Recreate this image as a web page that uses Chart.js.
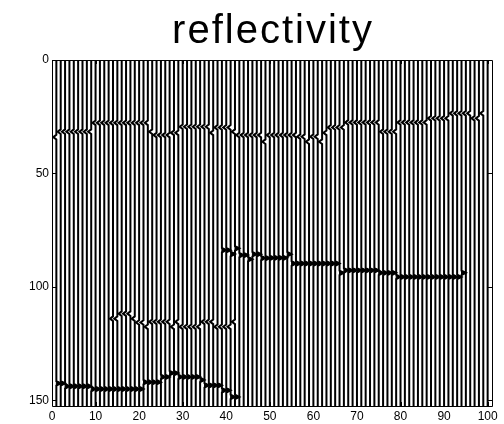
<!DOCTYPE html>
<html><head><meta charset="utf-8">
<script src="https://cdn.jsdelivr.net/npm/chart.js@4/dist/chart.umd.min.js"></script>
<style>html,body{margin:0;padding:0;background:#fff}#wrap{width:504px;height:424px}</style>
</head><body><div id="wrap"><canvas id="c" width="504" height="424"></canvas></div>
<script>
// ---- data ----
const chartTitle = 'reflectivity';
const traces = [1,2,3,4,5,6,7,8,9,10,11,12,13,14,15,16,17,18,19,20,21,22,23,24,25,26,27,28,29,30,31,32,33,34,35,36,37,38,39,40,41,42,43,44,45,46,47,48,49,50,51,52,53,54,55,56,57,58,59,60,61,62,63,64,65,66,67,68,69,70,71,72,73,74,75,76,77,78,79,80,81,82,83,84,85,86,87,88,89,90,91,92,93,94,95,96,97,98,99,100];
const xTickValues = [0,10,20,30,40,50,60,70,80,90,100];
const yTickValues = [0,50,100,150];
const xRange = [0, 101];
const timeRange = [0, 152.5];

// reflector A (negative polarity), first trace 1
const reflA_first = 1;
const reflA_coef = -0.7;
const reflA_time = [34,
 31.6,31.6,31.6,31.6,31.6,31.6,31.6,31.6,
 27.7,27.7,27.7,27.7,27.7,27.7,27.7,27.7,27.7,27.7,27.7,27.7,27.7,
 31.6, 33.1,33.1,33.1,33.1, 32.1,32.1,
 29.4,29.4,29.4,29.4,29.4,29.4,29.4, 32.1,
 29.7,29.7,29.7,29.7, 31.6,
 33.1,33.1,33.1,33.1,33.1,33.1, 36,
 33.1,33.1,33.1,33.1,33.1,33.1,33.1, 33.8,33.8, 36, 33.8,33.8, 36, 32.1,
 29.7,29.7,29.7,29.7,
 27.5,27.5,27.5,27.5,27.5,27.5,27.5,27.5,
 31.6,31.6,31.6,31.6,
 27.5,27.5,27.5,27.5,27.5,27.5,27.5,
 25.7,25.7,25.7,25.7,25.7,
 23.5,23.5,23.5,23.5,23.5, 25.7,25.7, 23.5];

// reflector B (positive polarity), first trace 39
const reflB_first = 39;
const reflB_coef = 1.0;
const reflB_time = [83.8,83.8, 85.5, 83, 86,86, 87.8, 85.6,85.6, 87.3,87.3,
 87.2,87.2,87.2,87.2, 85.6,
 89.7,89.7,89.7,89.7,89.7,89.7,89.7,89.7,89.7,89.7,89.7, 93.8,
 92.7,92.7,92.7,92.7,92.7,92.7,92.7,92.7, 93.8,93.8,93.8,93.8,
 95.6,95.6,95.6,95.6,95.6,95.6,95.6,95.6,95.6,95.6,95.6,95.6,95.6,95.6,95.6, 93.8];

// reflector C (negative polarity), first trace 14
const reflC_first = 14;
const reflC_coef = -0.7;
const reflC_time = [114,114, 111.8,111.8,111.8, 114, 115.7,115.7, 117.6,
 115.4,115.4,115.4,115.4,115.4, 117.6, 115.4,
 117.6,117.6,117.6,117.6,117.6, 115.4,115.4,115.4,
 117.6,117.6,117.6,117.6, 115.4];

// reflector D (positive polarity), first trace 1
const reflD_first = 1;
const reflD_coef = 1.0;
const reflD_time = [142.5,142.5, 143.8,143.8,143.8,143.8,143.8,143.8,
 145,145,145,145,145,145,145,145,145,145,145,145,
 142,142,142,142, 139.7,139.7, 138,138,
 139.7,139.7,139.7,139.7,139.7, 141, 143.4,143.4,143.4,143.4,
 145.6,145.6, 148.5,148.5];

const reflectors = [
  {first: reflA_first, coef: reflA_coef, time: reflA_time},
  {first: reflB_first, coef: reflB_coef, time: reflB_time},
  {first: reflC_first, coef: reflC_coef, time: reflC_time},
  {first: reflD_first, coef: reflD_coef, time: reflD_time}
];

// ---- build wiggle datasets ----
const halfWidth = 1; // samples
const lineDatasets = [];
const fillDatasets = [];
traces.forEach(k => {
  const ev = [];
  reflectors.forEach(r => {
    const i = k - r.first;
    if (i >= 0 && i < r.time.length) ev.push({t: r.time[i], a: r.coef});
  });
  ev.sort((p, q) => p.t - q.t);
  const pts = [{x: k, y: timeRange[0]}];
  ev.forEach(e => {
    pts.push({x: k, y: e.t - halfWidth}, {x: k + e.a, y: e.t}, {x: k, y: e.t + halfWidth});
    if (e.a > 0) {
      fillDatasets.push({
        data: [{x: k, y: e.t - halfWidth}, {x: k + e.a, y: e.t}, {x: k, y: e.t + halfWidth}, {x: k, y: e.t - halfWidth}],
        showLine: true, borderColor: '#000', borderWidth: 1, backgroundColor: '#000',
        fill: 'shape', pointRadius: 0, tension: 0
      });
    }
  });
  pts.push({x: k, y: timeRange[1]});
  lineDatasets.push({data: pts, showLine: true, borderColor: '#000', borderWidth: 2,
    pointRadius: 0, fill: false, tension: 0});
});

const framePlugin = {
  id: 'frame',
  afterDatasetsDraw(chart) {
    const {ctx, chartArea: a, scales} = chart;
    ctx.save();
    ctx.strokeStyle = '#000';
    ctx.lineWidth = 1;
    ctx.beginPath();
    ctx.rect(Math.round(a.left) + 0.5, Math.round(a.top) + 0.5, Math.round(a.right - a.left), Math.round(a.bottom - a.top));
    ctx.stroke();
    const tl = 4;
    ctx.beginPath();
    xTickValues.forEach(v => {
      const px = Math.round(scales.x.getPixelForValue(v)) + 0.5;
      ctx.moveTo(px, a.bottom); ctx.lineTo(px, a.bottom - tl);
      ctx.moveTo(px, a.top); ctx.lineTo(px, a.top + tl);
    });
    yTickValues.forEach(v => {
      const py = Math.round(scales.y.getPixelForValue(v)) + 0.5;
      ctx.moveTo(a.left, py); ctx.lineTo(a.left + tl, py);
      ctx.moveTo(a.right, py); ctx.lineTo(a.right - tl, py);
    });
    ctx.stroke();
    // title centred over the plot box
    ctx.fillStyle = '#000';
    ctx.font = '40px "Liberation Sans", Arial, sans-serif';
    ctx.textAlign = 'center';
    ctx.textBaseline = 'alphabetic';
    if ('letterSpacing' in ctx) ctx.letterSpacing = '2px';
    ctx.fillText(chartTitle, (a.left + a.right) / 2 + 1, 43);
    ctx.restore();
  }
};

new Chart(document.getElementById('c'), {
  type: 'scatter',
  data: {datasets: fillDatasets.concat(lineDatasets)},
  options: {
    responsive: false, animation: false, devicePixelRatio: 1,
    layout: {padding: {left: 0, right: 12, top: 60, bottom: 0}},
    plugins: {
      legend: {display: false}, tooltip: {enabled: false}, title: {display: false}
    },
    scales: {
      x: {type: 'linear', min: xRange[0], max: xRange[1],
        grid: {display: false, drawTicks: false}, border: {display: false},
        afterBuildTicks: s => { s.ticks = xTickValues.map(v => ({value: v})); },
        afterFit: s => { s.height = 18; },
        ticks: {color: '#000', padding: 3, maxRotation: 0, autoSkip: false,
          font: {family: 'Liberation Sans, Arial, sans-serif', size: 12}}},
      y: {type: 'linear', reverse: true, min: timeRange[0], max: timeRange[1],
        grid: {display: false, drawTicks: false}, border: {display: false},
        afterBuildTicks: s => { s.ticks = yTickValues.map(v => ({value: v})); },
        afterFit: s => { s.width = 52; },
        ticks: {color: '#000', padding: 3, autoSkip: false,
          font: {family: 'Liberation Sans, Arial, sans-serif', size: 12}}}
    }
  },
  plugins: [framePlugin]
});
</script></body></html>
